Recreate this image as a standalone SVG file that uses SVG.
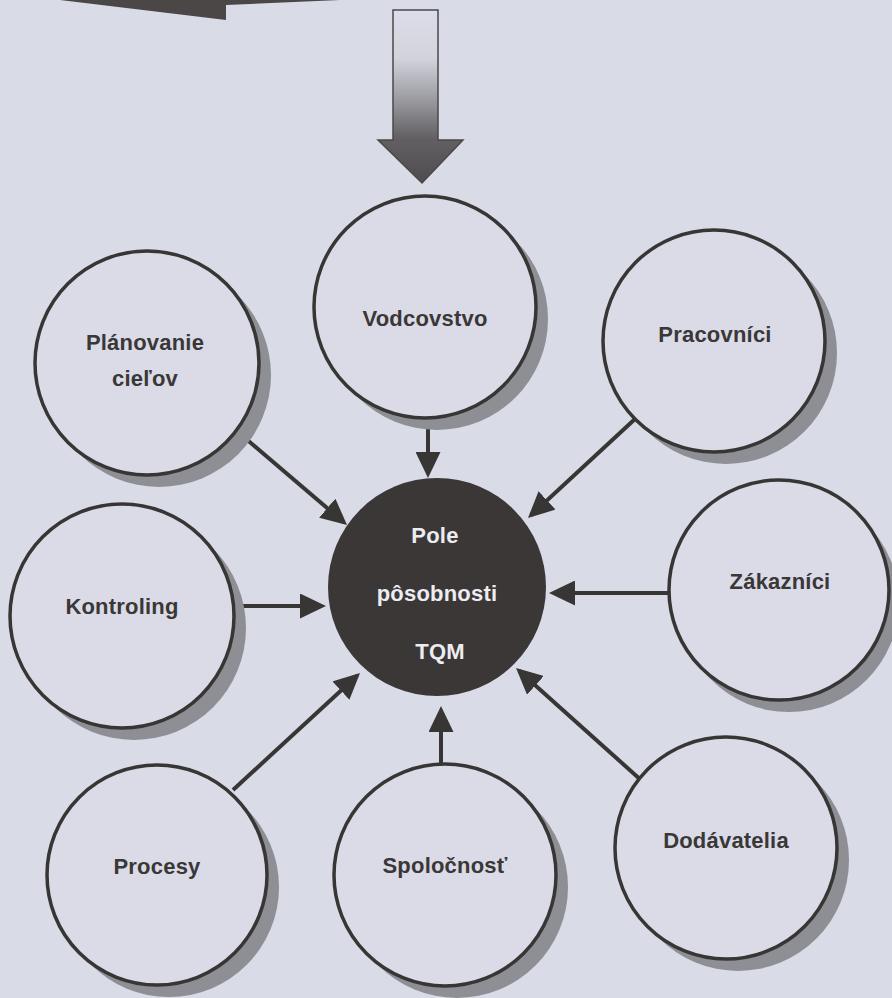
<svg xmlns="http://www.w3.org/2000/svg" width="892" height="998" viewBox="0 0 892 998">
  <defs>
    <style>
      .node circle.ring { fill: #dadbe7; stroke: #383535; stroke-width: 3.5; }
      .node circle.shadow { fill: #8e8e95; }
      .label { font-family: "Liberation Sans", Arial, sans-serif; font-weight: bold; font-size: 22px; letter-spacing: 0.2px; fill: #3a3737; text-anchor: middle; }
      .core { fill: #3b3737; }
      .core-label { font-family: "Liberation Sans", Arial, sans-serif; font-weight: bold; font-size: 22px; letter-spacing: 0.2px; fill: #ececf2; text-anchor: middle; }
      .conn line { stroke: #383535; stroke-width: 4; marker-end: url(#head); }
    </style>
    <marker id="head" viewBox="0 0 26 25" refX="22" refY="12.5" markerWidth="26" markerHeight="25" markerUnits="userSpaceOnUse" orient="auto">
      <path d="M0,0 L26,12.5 L0,25 z" fill="#383535"/>
    </marker>
    <linearGradient id="fade" gradientUnits="userSpaceOnUse" x1="0" y1="10" x2="0" y2="183">
      <stop offset="0" stop-color="#dcdde8"/>
      <stop offset="0.28" stop-color="#d2d3dc"/>
      <stop offset="0.52" stop-color="#9a9aa0"/>
      <stop offset="0.74" stop-color="#626063"/>
      <stop offset="1" stop-color="#4e4c4e"/>
    </linearGradient>
  </defs>

  <!-- paper -->
  <rect width="892" height="998" fill="#d9dbe7"/>

  <!-- large dark arrow entering from the top edge -->
  <polygon points="60,0 226,20 226,5 340,0" fill="#4b4747"/>

  <!-- shaded arrow pointing down into leadership -->
  <polygon points="393,10 438,10 438,140 463,140 422,183 378,140 393,140" fill="url(#fade)" stroke="#4a4848" stroke-width="1.5" stroke-linejoin="miter"/>

  <!-- connectors -->
  <g id="connectors" class="conn">
    <line x1="238" y1="432" x2="344" y2="522.4"/>
    <line x1="428" y1="418" x2="428" y2="474"/>
    <line x1="635" y1="419" x2="530.9" y2="515.3"/>
    <line x1="234" y1="606" x2="322" y2="606"/>
    <line x1="670" y1="593" x2="553" y2="593"/>
    <line x1="233" y1="790" x2="357.1" y2="675.7"/>
    <line x1="441" y1="763" x2="441" y2="710"/>
    <line x1="642" y1="781" x2="519" y2="670.7"/>
  </g>

  <!-- outer nodes -->
  <g id="planovanie" class="node">
    <circle class="shadow" cx="159" cy="375" r="112"/>
    <circle class="ring" cx="147" cy="363" r="112"/>
    <text class="label" x="145" y="350">Plánovanie</text>
    <text class="label" x="145" y="386">cieľov</text>
  </g>

  <g id="vodcovstvo" class="node">
    <circle class="shadow" cx="437" cy="319" r="111"/>
    <circle class="ring" cx="425" cy="307" r="111"/>
    <text class="label" x="425" y="326">Vodcovstvo</text>
  </g>

  <g id="pracovnici" class="node">
    <circle class="shadow" cx="726" cy="353" r="111"/>
    <circle class="ring" cx="714" cy="341" r="111"/>
    <text class="label" x="715" y="342">Pracovníci</text>
  </g>

  <g id="kontroling" class="node">
    <circle class="shadow" cx="134" cy="628" r="112"/>
    <circle class="ring" cx="122" cy="616" r="112"/>
    <text class="label" x="122" y="614">Kontroling</text>
  </g>

  <g id="zakaznici" class="node">
    <circle class="shadow" cx="789" cy="602" r="110"/>
    <circle class="ring" cx="779" cy="590" r="110"/>
    <text class="label" x="780" y="589">Zákazníci</text>
  </g>

  <g id="procesy" class="node">
    <circle class="shadow" cx="169" cy="887" r="110"/>
    <circle class="ring" cx="157" cy="875" r="110"/>
    <text class="label" x="157" y="874">Procesy</text>
  </g>

  <g id="spolocnost" class="node">
    <circle class="shadow" cx="457" cy="887" r="111"/>
    <circle class="ring" cx="445" cy="875" r="111"/>
    <text class="label" x="445" y="873">Spoločnosť</text>
  </g>

  <g id="dodavatelia" class="node">
    <circle class="shadow" cx="738" cy="860" r="111"/>
    <circle class="ring" cx="726" cy="848" r="111"/>
    <text class="label" x="726" y="848">Dodávatelia</text>
  </g>

  <!-- central node -->
  <g id="pole-posobnosti-tqm">
    <circle class="core" cx="437" cy="587" r="109"/>
    <text class="core-label" x="435" y="543">Pole</text>
    <text class="core-label" x="437" y="601">pôsobnosti</text>
    <text class="core-label" x="440" y="659">TQM</text>
  </g>
</svg>
